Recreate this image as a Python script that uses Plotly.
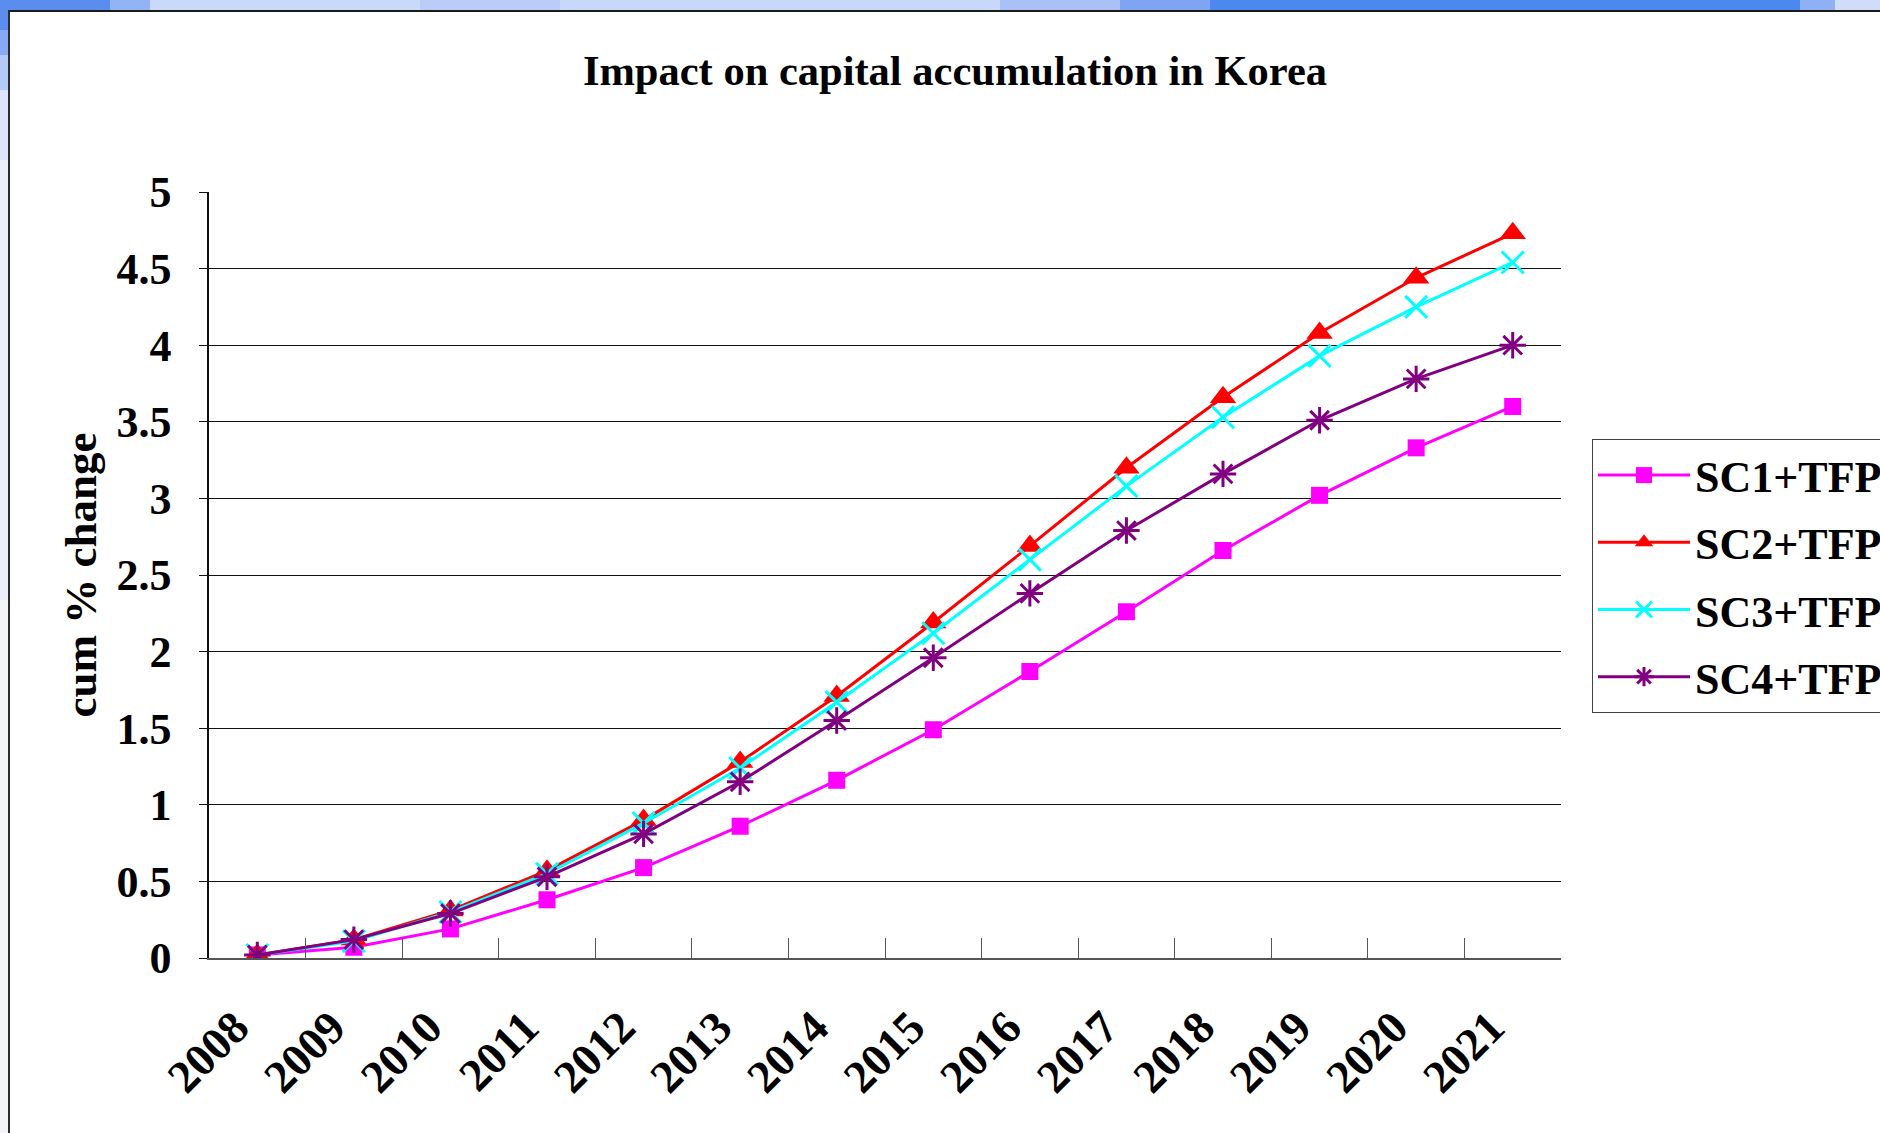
import plotly.graph_objects as go

# Years on the category axis
years = ["2008", "2009", "2010", "2011", "2012", "2013", "2014",
         "2015", "2016", "2017", "2018", "2019", "2020", "2021"]

# Cumulative % change in capital stock, by scenario
sc1_tfp = [0.02, 0.07, 0.19, 0.38, 0.59, 0.86, 1.16, 1.49, 1.87, 2.26, 2.66, 3.02, 3.33, 3.60]
sc2_tfp = [0.02, 0.12, 0.31, 0.57, 0.90, 1.28, 1.71, 2.19, 2.69, 3.20, 3.66, 4.08, 4.44, 4.73]
sc3_tfp = [0.02, 0.11, 0.30, 0.55, 0.88, 1.24, 1.67, 2.12, 2.60, 3.08, 3.53, 3.93, 4.25, 4.54]
sc4_tfp = [0.02, 0.12, 0.29, 0.53, 0.81, 1.15, 1.55, 1.96, 2.38, 2.79, 3.16, 3.51, 3.78, 4.00]

series_names = ["SC1+TFP", "SC2+TFP", "SC3+TFP", "SC4+TFP"]

W, H = 1880, 1133
L, R, T, B = 209, 1561, 192, 958  # plot area in pixels

FONT = "Liberation Serif, Times New Roman, serif"

fig = go.Figure()

styles = [
    dict(color="#FF00FF", symbol="square", size=17, lw=3),
    dict(color="#FF0000", symbol="triangle-up", size=23, lw=3),
    dict(color="#00FFFF", symbol="x-thin-open", size=22, lw=3),
    dict(color="#800080", symbol="asterisk-open", size=22, lw=3),
]

for name, vals, st in zip(series_names, [sc1_tfp, sc2_tfp, sc3_tfp, sc4_tfp], styles):
    marker = dict(color=st["color"], symbol=st["symbol"], size=st["size"])
    if st["symbol"].endswith("open"):
        marker["line"] = dict(color=st["color"], width=3)
    fig.add_trace(go.Scatter(
        x=years, y=vals, name=name, legendgroup=name, mode="lines+markers",
        line=dict(color=st["color"], width=st["lw"]),
        marker=marker,
    ))


def px_x(px):
    return (px - L) / (R - L)


def px_y(py):
    return (B - py) / (B - T)


# Window frame: blue band across the top and a pale strip down the left
shapes = []
top_band = [
    (0, 110, "#5b8def"), (110, 150, "#93b4f4"), (150, 420, "#c9d9fa"),
    (420, 560, "#b9cdf8"), (560, 1000, "#c8d8fa"), (1000, 1120, "#a9c1f6"),
    (1120, 1210, "#7ea4f2"), (1210, 1800, "#4b88f0"), (1800, 1835, "#8fb0f4"),
    (1835, 1880, "#cfdcfa"),
]
for x0, x1, c in top_band:
    shapes.append(dict(type="rect", xref="paper", yref="paper",
                       x0=px_x(x0), x1=px_x(x1), y0=px_y(10), y1=px_y(0),
                       fillcolor=c, line=dict(width=0), layer="below"))
left_strip = [
    (10, 30, "#5b8def"), (30, 55, "#87a9f3"), (55, 90, "#b4c9f8"),
    (90, 160, "#dbe4fa"), (160, 600, "#eceefa"), (600, 1133, "#f3f3f8"),
]
for y0, y1, c in left_strip:
    shapes.append(dict(type="rect", xref="paper", yref="paper",
                       x0=px_x(0), x1=px_x(8), y0=px_y(y1), y1=px_y(y0),
                       fillcolor=c, line=dict(width=0), layer="below"))
# dark frame edges
shapes.append(dict(type="line", xref="paper", yref="paper",
                   x0=px_x(8), x1=px_x(W), y0=px_y(11), y1=px_y(11),
                   line=dict(color="#1a1a1a", width=2)))
shapes.append(dict(type="line", xref="paper", yref="paper",
                   x0=px_x(9), x1=px_x(9), y0=px_y(10), y1=px_y(H),
                   line=dict(color="#2b2b2b", width=2)))

fig.update_layout(
    width=W, height=H,
    margin=dict(l=L, r=W - R, t=T, b=H - B, autoexpand=False),
    paper_bgcolor="white", plot_bgcolor="white",
    font=dict(family=FONT, color="black", size=42, weight="bold"),
    title=dict(text="Impact on capital accumulation in Korea",
               x=955 / W, xref="container", xanchor="center",
               y=1 - 70 / H, yref="container", yanchor="middle",
               font=dict(family=FONT, size=42.5, color="black", weight="bold")),
    showlegend=True,
    legend=dict(x=px_x(1592), y=px_y(439), xanchor="left", yanchor="top",
                bgcolor="white", bordercolor="#444", borderwidth=1,
                font=dict(family=FONT, size=44, color="black", weight="bold"),
                itemwidth=92, tracegroupgap=7),
    shapes=shapes,
)

fig.update_xaxes(
    type="category", range=[-0.5, 13.5],
    tickson="boundaries", ticks="inside", ticklen=20, tickcolor="#555",
    showline=True, linecolor="#555", linewidth=1.5,
    showgrid=False, zeroline=False,
    tickangle=-45, ticklabelstandoff=22, ticklabelshift=-22,
    tickfont=dict(family=FONT, size=46, color="black", weight="bold"),
)
fig.update_yaxes(
    range=[0, 5], dtick=0.5, tick0=0,
    showgrid=True, gridcolor="#111", gridwidth=1,
    showline=True, linecolor="#111", linewidth=1.5,
    ticks="outside", ticklen=8, tickcolor="#111",
    zeroline=False, ticklabelstandoff=19,
    tickfont=dict(family=FONT, size=44, color="black", weight="bold"),
    title=dict(text="cum % change", standoff=6,
               font=dict(family=FONT, size=45, color="black", weight="bold")),
)

fig.write_html("out.html")
